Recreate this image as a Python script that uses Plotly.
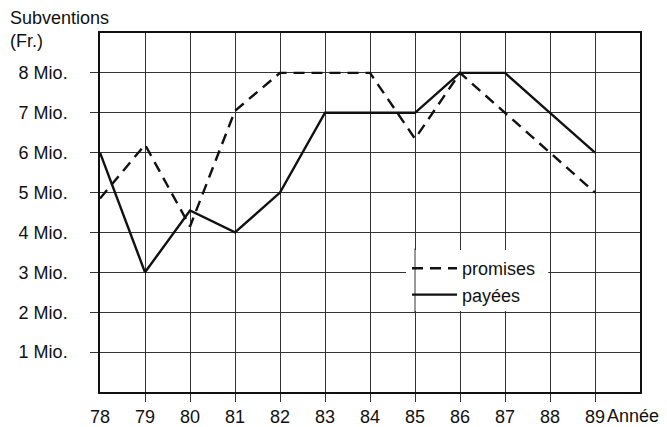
import plotly.graph_objects as go

years = [78, 79, 80, 81, 82, 83, 84, 85, 86, 87, 88, 89]
year_labels = ["78", "79", "80", "81", "82", "83", "84", "85", "86", "87", "88", "89"]
promises = [4.85, 6.2, 4.15, 7.05, 8.0, 8.0, 8.0, 6.35, 8.0, 7.0, 6.0, 5.0]
payees = [6.0, 3.0, 4.55, 4.0, 5.0, 7.0, 7.0, 7.0, 8.0, 8.0, 7.0, 6.0]
y_ticks = [1, 2, 3, 4, 5, 6, 7, 8]
y_labels = ["1 Mio.", "2 Mio.", "3 Mio.", "4 Mio.", "5 Mio.", "6 Mio.", "7 Mio.", "8 Mio."]

FONT = "Liberation Sans, Arial, Helvetica, sans-serif"
INK = "#111111"
GRID = "#333333"

fig = go.Figure()
fig.add_trace(go.Scatter(x=years, y=promises, mode="lines", name="promises",
                         line=dict(color=INK, width=2.4, dash="11px,7px")))
fig.add_trace(go.Scatter(x=years, y=payees, mode="lines", name="payées",
                         line=dict(color=INK, width=2.4)))

W, H = 667, 427
L, R, T, B = 100, 27, 33, 35
pw = W - L - R
ph = H - T - B

fig.update_layout(
    width=W, height=H,
    margin=dict(l=L, r=R, t=T, b=B, autoexpand=False),
    paper_bgcolor="white", plot_bgcolor="white",
    font=dict(family=FONT, size=18, color=INK),
    showlegend=True,
    legend=dict(x=(407 - L) / pw, y=(H - B - 250) / ph, xanchor="left", yanchor="top",
                bgcolor="rgba(0,0,0,0)", borderwidth=0, itemwidth=45,
                font=dict(size=18, family=FONT, color=INK),
                tracegroupgap=0),
)

fig.update_xaxes(
    range=[78, 90], tickmode="array", tickvals=years, ticktext=year_labels,
    showgrid=True, gridcolor=GRID, gridwidth=1, automargin=False,
    showline=True, linecolor=INK, linewidth=1.5, mirror=True,
    ticks="", ticklabelstandoff=8, zeroline=False,
    minor=dict(tickmode="array", tickvals=years[1:], ticks="outside", ticklen=8,
               tickcolor=GRID, tickwidth=1, showgrid=False),
    tickfont=dict(size=18, family=FONT, color=INK),
)
fig.update_yaxes(
    range=[0, 9], tickmode="array", tickvals=y_ticks, ticktext=y_labels,
    showgrid=True, gridcolor=GRID, gridwidth=1, automargin=False,
    showline=True, linecolor=INK, linewidth=1.5, mirror=True,
    ticks="outside", ticklen=8, tickcolor=GRID, tickwidth=1,
    ticklabelstandoff=19, zeroline=False,
    tickfont=dict(size=18, family=FONT, color=INK),
)

# white patch behind the legend (grid interrupted there), with the 85 grid line kept
fig.add_shape(type="rect", xref="x", yref="y", x0=84.8, x1=87.96, y0=2.03, y1=3.56,
              fillcolor="white", line=dict(width=0), layer="between")
fig.add_shape(type="line", xref="x", yref="y", x0=85, x1=85, y0=2.0, y1=3.6,
              line=dict(color=GRID, width=1), layer="between")

fig.add_annotation(text="Subventions<br>(Fr.)", xref="paper", yref="paper",
                   x=(8 - L) / pw, y=1 + (T - 6) / ph, xanchor="left", yanchor="top",
                   align="left", showarrow=False, font=dict(size=18, family=FONT, color=INK))
fig.add_annotation(text="Année", xref="paper", yref="paper",
                   x=(605 - L) / pw, y=-(416 - (H - B)) / ph, xanchor="left", yanchor="middle",
                   showarrow=False, font=dict(size=18, family=FONT, color=INK))

fig.write_html("out.html", config={"displayModeBar": False},
               post_script="document.body.style.margin='0';document.body.style.overflow='hidden';")
